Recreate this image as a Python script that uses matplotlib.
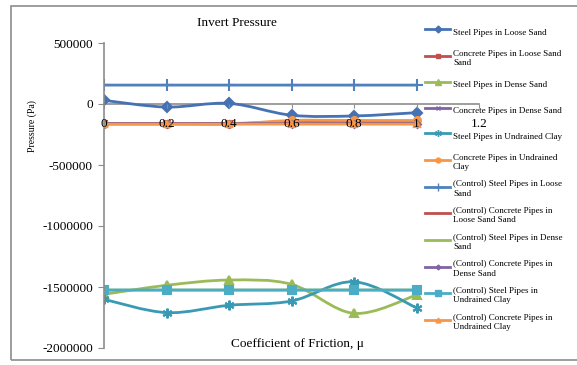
import matplotlib
matplotlib.use("Agg")
import matplotlib.pyplot as plt
from matplotlib.path import Path
from matplotlib.patches import PathPatch, Rectangle
from matplotlib.lines import Line2D

plt.rcParams['font.family'] = ['Liberation Serif', 'DejaVu Serif']
plt.rcParams['axes.unicode_minus'] = False

# ---- data ----
mu = [0, 0.2, 0.4, 0.6, 0.8, 1.0]
steel_loose = [30000, -25000, 5000, -92000, -98000, -71000]
concrete_loose = [-160000, -160000, -160000, -160000, -160000, -160000]
steel_dense = [-1560000, -1486000, -1443000, -1478000, -1716000, -1566000]
concrete_dense = [-160000, -160000, -160000, -150000, -150000, -150000]
steel_clay = [-1601000, -1710000, -1650000, -1615000, -1457000, -1670000]
concrete_clay = [-165000, -165000, -165000, -135000, -135000, -135000]
ctrl_steel_loose = [155000] * 6
ctrl_concrete_loose = [-160000] * 6
ctrl_steel_dense = [-1525000] * 6
ctrl_concrete_dense = [-160000] * 6
ctrl_steel_clay = [-1525000] * 6
ctrl_concrete_clay = [-165000] * 6

labels = [
    "Steel Pipes in Loose Sand",
    "Concrete Pipes in Loose Sand\nSand",
    "Steel Pipes in Dense Sand",
    "Concrete Pipes in Dense Sand",
    "Steel Pipes in Undrained Clay",
    "Concrete Pipes in Undrained\nClay",
    "(Control) Steel Pipes in Loose\nSand",
    "(Control) Concrete Pipes in\nLoose Sand Sand",
    "(Control) Steel Pipes in Dense\nSand",
    "(Control) Concrete Pipes in\nDense Sand",
    "(Control) Steel Pipes in\nUndrained Clay",
    "(Control) Concrete Pipes in\nUndrained Clay",
]
series = [steel_loose, concrete_loose, steel_dense, concrete_dense, steel_clay,
          concrete_clay, ctrl_steel_loose, ctrl_concrete_loose, ctrl_steel_dense,
          ctrl_concrete_dense, ctrl_steel_clay, ctrl_concrete_clay]

y_ticks = [500000, 0, -500000, -1000000, -1500000, -2000000]
x_ticks = [0, 0.2, 0.4, 0.6, 0.8, 1.0, 1.2]
x_tick_labels = ["0", "0.2", "0.4", "0.6", "0.8", "1", "1.2"]

# ---- styles ----
colors = ['#4672B4', '#C0504D', '#9BBB59', '#8064A2', '#3A9AB4', '#F79646',
          '#4F81BD', '#C0504D', '#9BBB59', '#8064A2', '#4BACC6', '#F79646']
markers = ['D', 's', '^', 'x', (6, 2, 0), 'o', '+', '_', None, 'D', 's', '^']
msizes = [5, 5, 6, 5, 7, 5, 8, 6, 0, 3.5, 6, 5]

W, H = 577, 365
fig = plt.figure(figsize=(W / 100, H / 100), dpi=100)
ax = fig.add_axes([104 / W, 1 - 348 / H, (479 - 104) / W, (348 - 43) / H])
ax.set_facecolor('none')


def smooth_path(xs, ys):
    verts = [(xs[0], ys[0])]
    codes = [Path.MOVETO]
    n = len(xs)
    for i in range(n - 1):
        p0 = i - 1 if i > 0 else i
        p3 = i + 2 if i + 2 < n else i + 1
        c1 = (xs[i] + (xs[i + 1] - xs[p0]) / 6, ys[i] + (ys[i + 1] - ys[p0]) / 6)
        c2 = (xs[i + 1] - (xs[p3] - xs[i]) / 6, ys[i + 1] - (ys[p3] - ys[i]) / 6)
        verts += [c1, c2, (xs[i + 1], ys[i + 1])]
        codes += [Path.CURVE4] * 3
    return Path(verts, codes)


handles = []
for k, (ys, c, m, ms, lab) in enumerate(zip(series, colors, markers, msizes, labels)):
    z = 2 + k * 0.01
    ax.add_patch(PathPatch(smooth_path(mu, ys), fill=False, edgecolor=c, lw=2,
                           transform=ax.transData, zorder=z, capstyle='round',
                           joinstyle='round'))
    if m is not None:
        ax.plot(mu, ys, linestyle='none', marker=m, color=c, ms=ms, mew=1.5,
                zorder=z + 0.005)
    handles.append(Line2D([], [], color=c, lw=2, marker=m, ms=ms * 0.7, mew=1.0))

ax.set_xlim(0, 1.2)
ax.set_ylim(-2000000, 500000)
ax.set_xticks(x_ticks)
ax.set_xticklabels(x_tick_labels)
ax.set_yticks(y_ticks)
ax.set_yticklabels([str(v) for v in y_ticks])
ax.xaxis.set_zorder(5)
ax.yaxis.set_zorder(5)

spine_c = '#8C8C8C'
for s in ['top', 'right']:
    ax.spines[s].set_visible(False)
ax.spines['bottom'].set_position(('data', 0))
ax.spines['bottom'].set_color(spine_c)
ax.spines['left'].set_color(spine_c)
ax.spines['bottom'].set_linewidth(1.2)
ax.spines['left'].set_linewidth(1.2)
ax.spines['bottom'].set_zorder(1.5)
ax.tick_params(axis='y', direction='out', length=4, color=spine_c, labelsize=9.5, pad=4)
ax.tick_params(axis='x', direction='out', length=3, color=spine_c, labelsize=9.5, pad=7)

ax.text(0.515, 0.013, "Coefficient of Friction, \u03bc", transform=ax.transAxes,
        ha='center', va='center', fontsize=9.5)

fig.text(237 / W, 1 - 23 / H, "Invert Pressure", ha='center', va='center', fontsize=9.5)
fig.text(32 / W, 1 - 126 / H, "Pressure (Pa)", ha='center', va='center',
         rotation=90, fontsize=7)

fig.legend(handles, labels, loc='upper left', bbox_to_anchor=(425 / W, 1 - 24 / H),
           frameon=False, fontsize=6.5, handlelength=2.8, handletextpad=0.3,
           handleheight=2.4, labelspacing=1.05, borderpad=0, borderaxespad=0)

fig.patches.append(Rectangle((11 / W, 1 - 360 / H), (590 - 11) / W, (360 - 6) / H,
                             transform=fig.transFigure, fill=False,
                             edgecolor='#8C8C8C', lw=1.2, zorder=0))

fig.savefig("out.png", dpi=100)
